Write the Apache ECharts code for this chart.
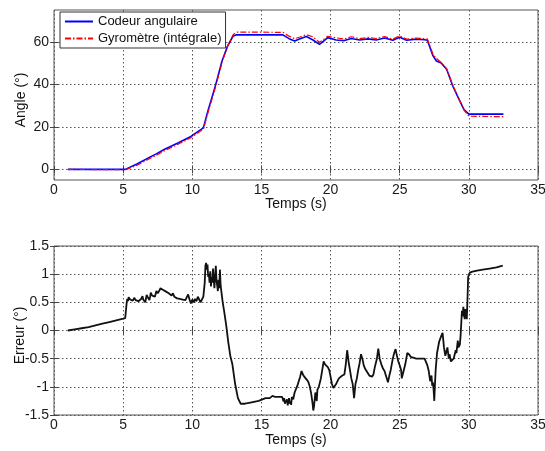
<!DOCTYPE html>
<html>
<head>
<meta charset="utf-8">
<script src="https://cdn.jsdelivr.net/npm/echarts@6/dist/echarts.min.js"></script>
<style>
html,body{margin:0;padding:0;background:#fff;}
#chart{width:545px;height:451px;}
</style>
</head>
<body>
<div id="chart"></div>
<script>
// ---- Data ----
const timeTicks = [0, 5, 10, 15, 20, 25, 30, 35];
const angleTicks = [0, 20, 40, 60];
const errTicks = [-1.5, -1, -0.5, 0, 0.5, 1, 1.5];

// Codeur angulaire (blue): [temps, angle]
const codeurData = [
  [1, 0], [5.15, 0], [6, 2.5], [7, 6], [7.4, 7.3], [8, 9.5], [9, 12.5], [9.9, 15.5], [10.8, 19.5],
  [11.15, 28], [11.7, 40], [12.15, 51], [12.55, 58], [12.95, 62.7], [13.2, 63.3], [16.55, 63.3],
  [17.0, 61.5], [17.4, 60.4], [17.8, 61.5], [18.25, 62.5], [18.7, 61], [19.2, 58.8], [19.8, 62],
  [20.4, 60.9], [21.0, 60.6], [21.5, 61.6], [22.1, 60.9], [22.7, 61.4], [23.3, 60.9], [23.9, 61.8],
  [24.5, 60.8], [25.0, 62.2], [25.5, 60.8], [26.2, 61.3], [26.8, 61], [27.0, 60.8], [27.4, 53.5],
  [27.65, 51], [28.0, 50.1], [28.4, 47], [28.85, 39], [29.3, 32.8], [29.65, 28.1], [30.0, 26], [32.5, 26]
];

// Gyromètre (intégrale) (red dash-dot): [temps, angle]
const gyroData = [
  [1, 0], [5.15, -0.2], [6, 1.95], [7, 5.35], [7.4, 6.6], [8, 8.8], [9, 11.9], [9.9, 14.95], [10.8, 18.9],
  [11.15, 27], [11.7, 39.1], [12.15, 50.3], [12.55, 58], [12.95, 63.4], [13.2, 64.6], [16.55, 64.5],
  [17.0, 62.7], [17.4, 61.5], [17.8, 62.3], [18.25, 63.4], [18.7, 62.4], [19.2, 59.8], [19.8, 62.6],
  [20.4, 61.9], [21.0, 61.4], [21.5, 62.4], [22.1, 61.5], [22.7, 62.1], [23.3, 61.6], [23.9, 62.5],
  [24.5, 61.3], [25.0, 62.8], [25.5, 61.3], [26.2, 61.8], [26.8, 61.5], [27.0, 61.4], [27.4, 54.3],
  [27.65, 52.2], [28.0, 50.3], [28.4, 47.3], [28.85, 39.5], [29.3, 32.9], [29.65, 27.9], [30.0, 25], [32.5, 24.8]
];

// Erreur (black): [temps, erreur]
const errData = [
  [1.0, 0.0], [1.5, 0.02], [2.0, 0.04], [2.5, 0.06], [3.0, 0.09], [3.5, 0.12], [4.0, 0.15], [4.5, 0.18],
  [5.0, 0.21], [5.15, 0.22], [5.25, 0.48], [5.3, 0.56], [5.35, 0.52], [5.4, 0.59], [5.5, 0.55], [5.6, 0.57],
  [5.7, 0.53], [5.8, 0.58], [5.9, 0.54], [6.0, 0.57], [6.1, 0.52], [6.2, 0.5], [6.3, 0.56], [6.4, 0.61],
  [6.45, 0.55], [6.55, 0.58], [6.6, 0.5], [6.7, 0.63], [6.8, 0.58], [6.9, 0.54], [6.95, 0.6], [7.0, 0.67],
  [7.1, 0.62], [7.2, 0.64], [7.3, 0.6], [7.4, 0.7], [7.5, 0.66], [7.6, 0.7], [7.7, 0.75], [7.8, 0.78],
  [7.9, 0.72], [8.0, 0.74], [8.1, 0.69], [8.2, 0.71], [8.3, 0.66], [8.4, 0.68], [8.5, 0.62], [8.6, 0.66],
  [8.7, 0.6], [8.8, 0.62], [8.9, 0.57], [9.0, 0.6], [9.1, 0.56], [9.2, 0.59], [9.3, 0.55], [9.4, 0.58],
  [9.5, 0.54], [9.6, 0.57], [9.7, 0.64], [9.8, 0.55], [9.9, 0.48], [10.0, 0.55], [10.1, 0.5], [10.2, 0.56],
  [10.3, 0.52], [10.4, 0.6], [10.5, 0.55], [10.6, 0.5], [10.7, 0.47], [10.8, 0.6], [10.9, 0.85], [10.95, 1.15],
  [11.0, 1.2], [11.05, 1.08], [11.1, 1.17], [11.15, 0.95], [11.2, 1.0], [11.25, 0.85], [11.3, 1.05], [11.35, 0.78],
  [11.4, 0.95], [11.45, 0.85], [11.5, 1.1], [11.55, 0.9], [11.6, 0.75], [11.65, 0.95], [11.7, 1.15], [11.75, 0.9],
  [11.8, 0.8], [11.85, 0.7], [11.9, 0.9], [11.95, 0.75], [12.0, 1.08], [12.05, 0.8], [12.1, 0.7], [12.2, 0.5],
  [12.3, 0.35], [12.45, 0.1], [12.6, -0.2], [12.75, -0.45], [12.9, -0.6], [13.1, -0.95], [13.3, -1.2], [13.5, -1.3],
  [13.8, -1.3], [14.2, -1.28], [14.8, -1.25], [15.3, -1.2], [15.6, -1.2], [15.8, -1.16], [16.0, -1.18], [16.5, -1.18],
  [16.6, -1.26], [16.65, -1.2], [16.7, -1.3], [16.75, -1.24], [16.8, -1.28], [16.85, -1.22], [16.9, -1.33], [16.95, -1.25],
  [17.0, -1.2], [17.05, -1.3], [17.1, -1.26], [17.15, -1.32], [17.2, -1.18], [17.3, -1.22], [17.4, -1.1], [17.5, -1.12],
  [17.6, -0.98], [17.7, -0.95], [17.8, -0.82], [17.9, -0.72], [18.0, -0.78], [18.1, -0.82], [18.2, -0.8], [18.3, -0.88],
  [18.4, -0.92], [18.5, -1.0], [18.6, -1.12], [18.7, -1.3], [18.75, -1.42], [18.8, -1.35], [18.9, -1.1], [18.95, -1.2],
  [19.0, -1.25], [19.05, -1.05], [19.15, -1.0], [19.3, -0.85], [19.4, -0.7], [19.5, -0.55], [19.6, -0.6], [19.7, -0.58],
  [19.8, -0.65], [19.9, -0.7], [20.0, -0.82], [20.1, -0.95], [20.2, -1.02], [20.3, -1.05], [20.4, -0.95], [20.5, -0.9],
  [20.6, -0.85], [20.7, -0.82], [20.85, -0.8], [21.0, -0.78], [21.1, -0.6], [21.2, -0.35], [21.3, -0.55], [21.4, -0.7],
  [21.5, -0.85], [21.6, -0.95], [21.7, -1.2], [21.8, -0.95], [21.9, -0.85], [22.0, -0.7], [22.1, -0.58], [22.2, -0.42],
  [22.3, -0.5], [22.4, -0.62], [22.5, -0.68], [22.6, -0.72], [22.8, -0.8], [23.0, -0.82], [23.1, -0.78], [23.2, -0.65],
  [23.35, -0.5], [23.45, -0.32], [23.55, -0.5], [23.7, -0.62], [23.8, -0.68], [23.9, -0.72], [24.0, -0.8], [24.1, -0.78],
  [24.15, -0.92], [24.25, -0.8], [24.35, -0.7], [24.5, -0.5], [24.6, -0.4], [24.7, -0.33], [24.8, -0.45], [24.9, -0.55],
  [25.0, -0.62], [25.1, -0.7], [25.15, -0.85], [25.25, -0.75], [25.4, -0.6], [25.55, -0.4], [25.7, -0.43], [25.8, -0.47],
  [25.9, -0.5], [26.2, -0.5], [26.8, -0.5], [27.0, -0.62], [27.1, -0.72], [27.2, -0.9], [27.3, -0.8], [27.35, -0.98],
  [27.4, -0.92], [27.45, -1.05], [27.5, -1.25], [27.55, -0.95], [27.6, -0.7], [27.7, -0.4], [27.85, -0.2], [28.0, -0.1],
  [28.1, -0.04], [28.2, -0.3], [28.3, -0.45], [28.4, -0.35], [28.45, -0.3], [28.55, -0.5], [28.6, -0.42], [28.7, -0.55],
  [28.8, -0.58], [28.9, -0.5], [28.95, -0.52], [29.05, -0.35], [29.1, -0.4], [29.2, -0.18], [29.25, -0.3], [29.35, -0.25],
  [29.4, -0.1], [29.5, 0.35], [29.55, 0.25], [29.6, 0.42], [29.65, 0.3], [29.7, 0.2], [29.75, 0.38], [29.8, 0.3],
  [29.85, 0.2], [29.9, 0.55], [29.95, 0.95], [30.05, 1.02], [30.2, 1.04], [30.5, 1.06], [31.0, 1.08], [31.5, 1.1],
  [32.0, 1.12], [32.45, 1.15]
];

// ---- Style ----
const FONT = 'Liberation Sans, Arial, sans-serif';
const gridLine = { show: true, lineStyle: { color: '#555', width: 1, type: [1.5, 2.5] } };
const tickStyle = { show: true, inside: true, length: 4, lineStyle: { color: '#444' } };
const lblStyle = { color: '#1a1a1a', fontSize: 14, fontFamily: FONT, hideOverlap: false };
const nameStyle = { color: '#111', fontSize: 14, fontFamily: FONT };

function xMain(gi, gap) {
  return {
    type: 'value', gridIndex: gi, min: 0, max: 35,
    axisLine: { show: false },
    axisTick: Object.assign({ customValues: timeTicks }, tickStyle),
    axisLabel: Object.assign({ customValues: timeTicks, margin: 3, showMinLabel: true, showMaxLabel: true }, lblStyle),
    splitLine: gridLine,
    name: 'Temps (s)', nameLocation: 'middle', nameGap: gap, nameMoveOverlap: false, nameTextStyle: nameStyle
  };
}
function xTop(gi) {
  return {
    type: 'value', gridIndex: gi, position: 'top', min: 0, max: 35,
    axisLine: { show: false },
    axisTick: Object.assign({ customValues: timeTicks }, tickStyle),
    axisLabel: { show: false }, splitLine: { show: false }
  };
}

const hiddenSymbol = { color: 'transparent', borderColor: 'transparent', borderWidth: 0, opacity: 0 };

const option = {
  backgroundColor: '#fff',
  animation: false,
  textStyle: { fontFamily: FONT },
  grid: [
    { left: 54, right: 7, top: 10, height: 170, show: true, borderColor: '#555', borderWidth: 1, backgroundColor: '#fff', containLabel: false, outerBoundsMode: 'none' },
    { left: 54, right: 7, top: 246, height: 169, show: true, borderColor: '#555', borderWidth: 1, backgroundColor: '#fff', containLabel: false, outerBoundsMode: 'none' }
  ],
  legend: {
    left: 60, top: 12, orient: 'vertical',
    itemWidth: 28, itemHeight: 14, itemGap: 4,
    padding: [3, 4, 3, 4],
    backgroundColor: '#fff', borderColor: '#333', borderWidth: 1,
    itemStyle: hiddenSymbol,
    textStyle: { fontSize: 13, color: '#111', fontFamily: FONT },
    data: [
      { name: 'Codeur angulaire', itemStyle: hiddenSymbol },
      { name: 'Gyromètre (intégrale)', itemStyle: hiddenSymbol }
    ]
  },
  xAxis: [xMain(0, 17), xTop(0), xMain(1, 18), xTop(1)],
  yAxis: [
    {
      type: 'value', gridIndex: 0, min: -5, max: 75,
      axisLine: { show: false },
      axisTick: Object.assign({ customValues: angleTicks }, tickStyle),
      axisLabel: Object.assign({ customValues: angleTicks, margin: 5 }, lblStyle),
      splitLine: gridLine,
      name: 'Angle (°)', nameLocation: 'middle', nameGap: 26, nameRotate: 90, nameMoveOverlap: false,
      nameTextStyle: Object.assign({ padding: [0, 10, 0, 0] }, nameStyle)
    },
    {
      type: 'value', gridIndex: 0, position: 'right', min: -5, max: 75,
      axisLine: { show: false },
      axisTick: Object.assign({ customValues: angleTicks }, tickStyle),
      axisLabel: { show: false }, splitLine: { show: false }
    },
    {
      type: 'value', gridIndex: 1, min: -1.5, max: 1.5,
      axisLine: { show: false },
      axisTick: Object.assign({ customValues: errTicks }, tickStyle),
      axisLabel: Object.assign({ customValues: errTicks, margin: 5, showMinLabel: true, showMaxLabel: true }, lblStyle),
      splitLine: gridLine,
      name: 'Erreur (°)', nameLocation: 'middle', nameGap: 27, nameRotate: 90, nameMoveOverlap: false,
      nameTextStyle: Object.assign({ padding: [0, 10, 0, 0] }, nameStyle)
    },
    {
      type: 'value', gridIndex: 1, position: 'right', min: -1.5, max: 1.5,
      axisLine: { show: false },
      axisTick: Object.assign({ customValues: errTicks }, tickStyle),
      axisLabel: { show: false }, splitLine: { show: false }
    }
  ],
  series: [
    {
      name: 'Codeur angulaire', type: 'line', xAxisIndex: 0, yAxisIndex: 0,
      data: codeurData, showSymbol: false, symbol: 'none',
      lineStyle: { color: '#0000ff', width: 1.6 }, itemStyle: { color: '#0000ff' }
    },
    {
      name: 'Gyromètre (intégrale)', type: 'line', xAxisIndex: 0, yAxisIndex: 0,
      data: gyroData, showSymbol: false, symbol: 'none',
      lineStyle: { color: '#ff0000', width: 1.2, type: [6, 2, 1.5, 2] }, itemStyle: { color: '#ff0000' }
    },
    {
      name: 'Erreur', type: 'line', xAxisIndex: 2, yAxisIndex: 2,
      data: errData, showSymbol: false, symbol: 'none',
      lineStyle: { color: '#111', width: 1.8 }, itemStyle: { color: '#111' }
    }
  ]
};

const chart = echarts.init(document.getElementById('chart'), null, { renderer: 'canvas' });
chart.setOption(option);
</script>
</body>
</html>
